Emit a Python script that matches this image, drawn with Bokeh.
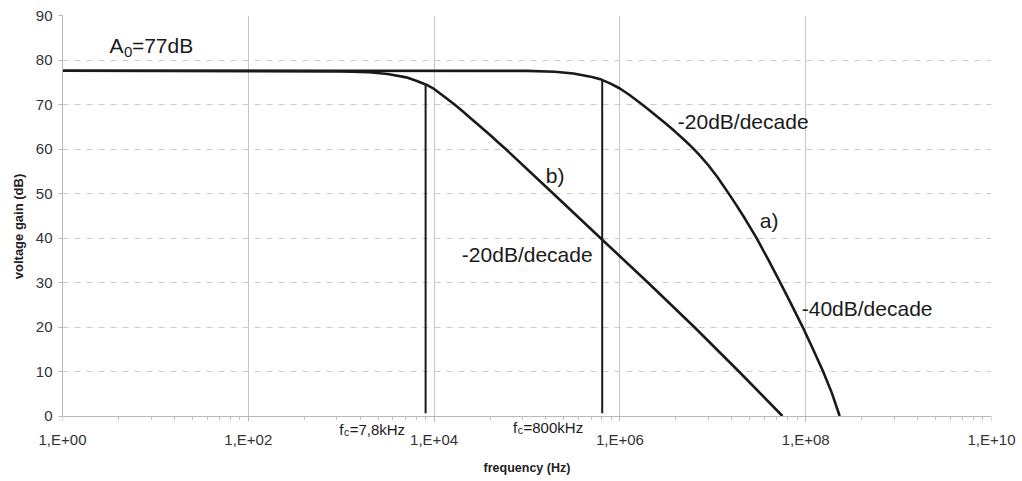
from bokeh.plotting import figure
from bokeh.models import FixedTicker, CustomJSTickFormatter, Label, Range1d, LogAxis
from bokeh.embed import file_html
from bokeh.resources import INLINE

# ---- data ----
# curve a)  (frequency Hz, gain dB)
a_freq = [1, 1e5, 2e5, 3.16e5, 5.01e5, 6.31e5, 7.94e5, 1e6, 1.26e6, 1.64e6,
          2e6, 2.51e6, 3.16e6, 3.98e6, 5.01e6, 6.1e6, 7.08e6, 8.91e6, 1.12e7,
          1.46e7, 1.78e7, 2.24e7, 2.92e7, 3.89e7, 5.19e7, 6.92e7, 9.23e7,
          1.2e8, 1.54e8, 1.91e8, 2.32e8]
a_db = [77.6, 77.55, 77.35, 76.95, 76.2, 75.6, 74.7, 73.6, 72.2, 70.4,
        69.0, 67.3, 65.6, 63.8, 61.9, 60.2, 58.8, 56.4, 53.7,
        50.2, 47.5, 44.2, 40.2, 35.4, 30.4, 25.3, 20.1,
        15.0, 10.0, 5.2, 0.0]
# curve b)
b_freq = [1, 1e3, 2e3, 3.16e3, 5.01e3, 6.31e3, 8.13e3, 1e4, 1.26e4, 1.66e4,
          2e4, 2.51e4, 3.16e4, 3.98e4, 5.01e4, 5.89e4, 1.91e5, 6.17e5, 2e6,
          6.31e6, 1.91e7, 5.62e7]
b_db = [77.6, 77.45, 77.25, 76.85, 76.1, 75.4, 74.5, 73.5, 71.9, 70.0,
        68.6, 66.8, 65.0, 63.2, 61.3, 60.0, 50.0, 40.0, 30.0,
        20.0, 10.0, 0.0]
# cut-off markers (vertical lines)
fc_freq = [8.1e3, 6.45e5]
fc_top = [74.5, 75.5]
fc_bottom = [0.6, 0.6]
fc_text = ["=7,8kHz", "=800kHz"]
fc_text_freq = [951, 7.07e4]
fc_text_db = [-3.0, -2.5]

# slope annotations
ann_text = ["-20dB/decade", "a)", "-40dB/decade", "b)", "-20dB/decade"]
ann_freq = [4.2e6, 3.2e7, 9.06e7, 1.59e5, 1.99e4]
ann_db = [66.2, 43.9, 24.2, 54.0, 36.3]
a0_freq = 3.2
a0_db = 83.3

x_major = [10 ** e for e in range(0, 11, 2)]
x_minor = [k * k * 100 ** n for n in range(5) for k in range(2, 10)]
y_ticks = list(range(0, 91, 10))

FONT = "Liberation Sans"
INK = "#1a1a1a"
AXIS_GREY = "#b8b8b8"

# the frame reaches a little below 0 dB so that the f_c labels under the axis stay visible
p = figure(x_axis_type="log", x_range=Range1d(1, 1e10), y_range=Range1d(-4.83, 90),
           frame_width=929, frame_height=422, output_backend="svg",
           toolbar_location=None, background_fill_color="white")
p.min_border_left = 62
p.min_border_top = 15
p.min_border_right = 26
p.min_border_bottom = 20
p.outline_line_color = None

# bottom axis: carries only the tick labels and the axis title
xa = p.xaxis[0]
xa.ticker = FixedTicker(ticks=x_major, minor_ticks=x_minor)
xa.formatter = CustomJSTickFormatter(code="""
const e = Math.round(Math.log10(tick));
return "1,E+" + String(e).padStart(2, "0");
""")
xa.axis_label = "frequency (Hz)"
xa.axis_label_text_font = FONT
xa.axis_label_text_font_style = "bold"
xa.axis_label_text_font_size = "12.5px"
xa.axis_label_text_color = "#222222"
xa.axis_label_standoff = 10
xa.major_label_text_font = FONT
xa.major_label_text_font_size = "15px"
xa.major_label_text_color = "#333333"
xa.major_label_standoff = -7
xa.axis_line_color = None
xa.major_tick_line_color = None
xa.minor_tick_line_color = None
xa.major_tick_out = 0
xa.major_tick_in = 0
xa.minor_tick_out = 0
xa.minor_tick_in = 0

# axis line with its ticks drawn at 0 dB
xline = LogAxis(fixed_location=0, ticker=FixedTicker(ticks=x_major, minor_ticks=x_minor),
                axis_line_color=AXIS_GREY, major_tick_line_color=AXIS_GREY,
                minor_tick_line_color=AXIS_GREY, major_tick_in=5, major_tick_out=0,
                minor_tick_in=3, minor_tick_out=0, major_label_text_font_size="0px",
                major_label_standoff=0, major_label_text_color=None)
p.add_layout(xline, "above")

ya = p.yaxis[0]
ya.ticker = FixedTicker(ticks=y_ticks, minor_ticks=[])
ya.bounds = (0, 90)
ya.axis_label = "voltage gain (dB)"
ya.axis_label_text_font = FONT
ya.axis_label_text_font_style = "bold"
ya.axis_label_text_font_size = "13px"
ya.axis_label_text_color = "#222222"
ya.axis_label_standoff = 7
ya.major_label_text_font = FONT
ya.major_label_text_font_size = "15px"
ya.major_label_text_color = "#333333"
ya.major_label_standoff = 6
ya.axis_line_color = AXIS_GREY
ya.major_tick_line_color = AXIS_GREY
ya.major_tick_out = 4
ya.major_tick_in = 0
ya.minor_tick_line_color = None

# grids
xg = p.xgrid[0]
xg.ticker = FixedTicker(ticks=x_major)
xg.grid_line_color = "#c4c4c4"
xg.grid_line_width = 1
if "cross_bounds" in xg.properties():
    xg.cross_bounds = (0, 90)
else:
    xg.visible = False
    p.segment(x0=x_major, y0=[0] * len(x_major), x1=x_major, y1=[90] * len(x_major),
              line_color="#c4c4c4", line_width=1)
yg = p.ygrid[0]
yg.ticker = FixedTicker(ticks=y_ticks[1:])
yg.grid_line_color = "#cccccc"
yg.grid_line_dash = "6 6"
yg.grid_line_width = 1

# curves
p.line(a_freq, a_db, line_color=INK, line_width=2.6, line_join="round")
p.line(b_freq, b_db, line_color=INK, line_width=2.6, line_join="round")
p.segment(x0=fc_freq, y0=fc_bottom, x1=fc_freq, y1=fc_top,
          line_color=INK, line_width=2)

# annotations
for t, f, d in zip(ann_text, ann_freq, ann_db):
    p.add_layout(Label(x=f, y=d, text=t, text_font=FONT, text_font_size="21px",
                       text_baseline="middle", text_align="left", text_color=INK))

p.add_layout(Label(x=a0_freq, y=a0_db, text="A", text_font=FONT, text_font_size="21px",
                   text_baseline="middle", text_align="left", text_color=INK))
p.add_layout(Label(x=a0_freq, y=a0_db, text="0", text_font=FONT, text_font_size="15px",
                   text_baseline="middle", text_align="left", text_color=INK,
                   x_offset=14.5, y_offset=-7))
p.add_layout(Label(x=a0_freq, y=a0_db, text="=77dB", text_font=FONT, text_font_size="21px",
                   text_baseline="middle", text_align="left", text_color=INK,
                   x_offset=22.5))

for t, f, d in zip(fc_text, fc_text_freq, fc_text_db):
    p.add_layout(Label(x=f, y=d, text="f", text_font=FONT, text_font_size="15px",
                       text_baseline="middle", text_align="left", text_color=INK))
    p.add_layout(Label(x=f, y=d, text="c", text_font=FONT, text_font_size="10.5px",
                       text_baseline="middle", text_align="left", text_color=INK,
                       x_offset=4.8, y_offset=-3))
    p.add_layout(Label(x=f, y=d, text=t, text_font=FONT, text_font_size="15px",
                       text_baseline="middle", text_align="left", text_color=INK,
                       x_offset=10.5))

open("out.html", "w").write(file_html(p, INLINE))
